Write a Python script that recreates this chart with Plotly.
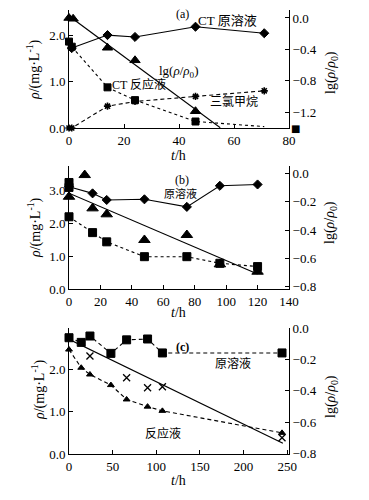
import plotly.graph_objects as go

# ---- panel (a) ----
a_t_dia = [1, 14, 24, 46, 71]
a_rho_dia = [1.72, 2.0, 1.96, 2.18, 2.04]          # CT 原溶液
a_t_sq = [0, 1, 14, 24, 46, 71]
a_rho_sq = [1.86, 1.75, 0.875, 0.6, 0.14, 0.03]    # CT 反应液 (last point: line only)
a_t_star = [0, 1, 14, 24, 46, 71]
a_rho_star = [0.0, 0.0, 0.47, 0.57, 0.68, 0.8]     # 三氯甲烷
a_t_tri = [0, 1.5, 14, 24, 46]
a_lg_tri = [0.0, -0.01, -0.38, -0.54, -1.19]
a_t_fit = [1, 55]
a_lg_fit = [0.0, -1.40]
a_t_odd = [82.5]
a_rho_odd = [0.0]

# ---- panel (b) ----
b_t_dia = [0, 15, 24, 48, 75, 96, 120]
b_rho_dia = [3.1, 2.9, 2.7, 2.72, 2.49, 3.13, 3.17]   # 原溶液
b_t_sq = [0, 15, 24, 48, 75, 96, 120]
b_rho_sq = [2.19, 1.71, 1.43, 0.98, 0.98, 0.78, 0.68]
b_t_sq0 = [0, 0]
b_rho_sq0 = [3.23, 3.08]
b_t_tri = [0, 10, 15, 24, 48, 75, 96, 120]
b_lg_tri = [-0.165, -0.012, -0.247, -0.289, -0.47, -0.435, -0.642, -0.694]
b_t_fit = [0, 120]
b_lg_fit = [-0.14, -0.71]

# ---- panel (c) ----
c_t = [0, 14, 24, 48, 66, 90, 107, 244]
c_rho_sq = [2.75, 2.64, 2.79, 2.38, 2.70, 2.72, 2.39, 2.39]   # 原溶液
c_rho_tri = [2.47, 2.04, 1.88, 1.63, 1.29, 1.12, 1.02, 0.50]  # 反应液
c_t_x = [24, 66, 90, 107, 244]
c_lg_x = [-0.177, -0.316, -0.38, -0.374, -0.70]
c_t_fit = [0, 245]
c_lg_fit = [-0.07, -0.735]

W, H = 369, 500
SERIF = "Liberation Serif, Times New Roman, serif"
CJK = "Liberation Serif, Noto Sans CJK SC, serif"
DASH = "4px,3px"
A_XRANGE = [0, 80]
A_YRANGE = [0, 2.54]

def px(x):
    return x / W

def py(y):
    return 1 - y / H

fig = go.Figure()

def lines(x, y, xa, ya, dash, width=1.1):
    return go.Scatter(x=x, y=y, xaxis=xa, yaxis=ya, mode="lines",
                      line=dict(color="black", width=width, dash=dash),
                      showlegend=False)

def pts(x, y, xa, ya, symbol, size, lw=1):
    return go.Scatter(x=x, y=y, xaxis=xa, yaxis=ya, mode="markers",
                      marker=dict(symbol=symbol, size=size, color="black",
                                  line=dict(color="black", width=lw)),
                      showlegend=False, cliponaxis=False)

# (a)
fig.add_trace(lines(a_t_dia, a_rho_dia, "x", "y", "solid"))
fig.add_trace(pts(a_t_dia, a_rho_dia, "x", "y", "diamond", 7))
fig.add_trace(lines(a_t_sq, a_rho_sq, "x", "y", "dot"))
fig.add_trace(pts(a_t_sq[:5], a_rho_sq[:5], "x", "y", "square", 7))
fig.add_trace(lines(a_t_star, a_rho_star, "x", "y", DASH))
fig.add_trace(pts(a_t_star, a_rho_star, "x", "y", "asterisk-open", 6, 1.6))
fig.add_trace(pts(a_t_tri, a_lg_tri, "x", "y2", "triangle-up", 9))
fig.add_trace(lines(a_t_fit, a_lg_fit, "x", "y2", "solid", 1.2))

# (b)
fig.add_trace(lines(b_t_dia, b_rho_dia, "x2", "y3", "solid"))
fig.add_trace(pts(b_t_dia, b_rho_dia, "x2", "y3", "diamond", 7))
fig.add_trace(lines(b_t_sq, b_rho_sq, "x2", "y3", "dot"))
fig.add_trace(pts(b_t_sq, b_rho_sq, "x2", "y3", "square", 8))
fig.add_trace(pts(b_t_sq0, b_rho_sq0, "x2", "y3", "square", 8))
fig.add_trace(pts(b_t_tri, b_lg_tri, "x2", "y4", "triangle-up", 10))
fig.add_trace(lines(b_t_fit, b_lg_fit, "x2", "y4", "solid", 1.2))

# (c)
fig.add_trace(lines(c_t, c_rho_sq, "x3", "y5", DASH))
fig.add_trace(pts(c_t, c_rho_sq, "x3", "y5", "square", 8))
fig.add_trace(lines(c_t, c_rho_tri, "x3", "y5", DASH))
fig.add_trace(pts(c_t, c_rho_tri, "x3", "y5", "triangle-up", 6))
fig.add_trace(pts(c_t_x, c_lg_x, "x3", "y6", "x-thin-open", 7, 1.3))
fig.add_trace(lines(c_t_fit, c_lg_fit, "x3", "y6", "solid", 1.2))

xdom = [px(69), px(289)]
tickfont = dict(family=SERIF, size=13, color="black")

def xax(rng, dtick, anchor):
    return dict(domain=xdom, range=rng, dtick=dtick, anchor=anchor,
                showline=True, linecolor="black", linewidth=1,
                ticks="inside", ticklen=4, tickcolor="black",
                showgrid=False, zeroline=False, tickfont=tickfont,
                automargin=False)

def yax(rng, dtick, dom, anchor, side="left", overlay=None):
    d = dict(range=rng, dtick=dtick, anchor=anchor, side=side,
             showline=True, linecolor="black", linewidth=1,
             ticks="inside", ticklen=4, tickcolor="black",
             showgrid=False, zeroline=False, tickfont=tickfont,
             tickformat=".1f", automargin=False)
    if overlay:
        d["overlaying"] = overlay
    else:
        d["domain"] = dom
    return d

dom_a = [py(128), py(10)]
dom_b = [py(289), py(166)]
dom_c = [py(454), py(328)]

fig.update_layout(
    width=W, height=H,
    margin=dict(l=0, r=0, t=0, b=0, pad=0),
    paper_bgcolor="white", plot_bgcolor="white",
    xaxis=xax(A_XRANGE, 20, "y"),
    yaxis=yax(A_YRANGE, 1, dom_a, "x"),
    yaxis2=yax([-1.404, 0.102], 0.4, None, "x", "right", "y"),
    xaxis2=xax([0, 140], 20, "y3"),
    yaxis3=yax([0, 3.73], 1, dom_b, "x2"),
    yaxis4=yax([-0.816, 0.052], 0.2, None, "x2", "right", "y3"),
    xaxis3=xax([0, 252], 50, "y5"),
    yaxis5=yax([0, 2.98], 1, dom_c, "x3"),
    yaxis6=yax([-0.804, 0.002], 0.2, None, "x3", "right", "y5"),
)

# stray square drawn just outside panel (a), beyond the axis range
fig.add_annotation(text="■",
                   x=(a_t_odd[0] - A_XRANGE[0]) / (A_XRANGE[1] - A_XRANGE[0]),
                   y=(a_rho_odd[0] - A_YRANGE[0]) / (A_YRANGE[1] - A_YRANGE[0]),
                   xref="x domain", yref="y domain",
                   showarrow=False, xanchor="center", yanchor="middle",
                   font=dict(family="DejaVu Sans", size=10, color="black"))

def note(text, x, y, size=13, angle=0, family=CJK):
    fig.add_annotation(text=text, x=px(x), y=py(y), xref="paper", yref="paper",
                       xanchor="center", yanchor="middle",
                       showarrow=False, textangle=angle,
                       font=dict(family=family, size=size, color="black"))

rho_title = "<i>ρ</i>/(mg·L<sup>-1</sup>)"
lg_title = "lg(<i>ρ</i>/<i>ρ</i><sub>0</sub>)"

# axis titles
for yl, yr, yt, xl in [(70, 73, 155, 33), (228, 223, 312, 35), (390, 397, 480, 38)]:
    note(rho_title, xl, yl, 14, -90, SERIF)
    note(lg_title, 331, yr, 14, -90, SERIF)
    note("<i>t</i>/h", 178, yt, 14, 0, SERIF)

# panel labels
note("(a)", 182, 14, 12, family=SERIF)
note("CT 原溶液", 227, 20, 13)
note(lg_title, 178, 71, 13, family=SERIF)
note("CT 反应液", 139, 84, 12)
note("三氯甲烷", 234, 102, 12)

note("(b)", 182, 180, 12, family=SERIF)
note("原溶液", 180, 193, 11)

note("<b>(c)</b>", 182, 347, 12, family=SERIF)
note("原溶液", 233, 363, 12)
note("反应液", 163, 433, 12)

fig.write_html("out.html", config={"displayModeBar": False},
               post_script="document.body.style.margin='0';")
